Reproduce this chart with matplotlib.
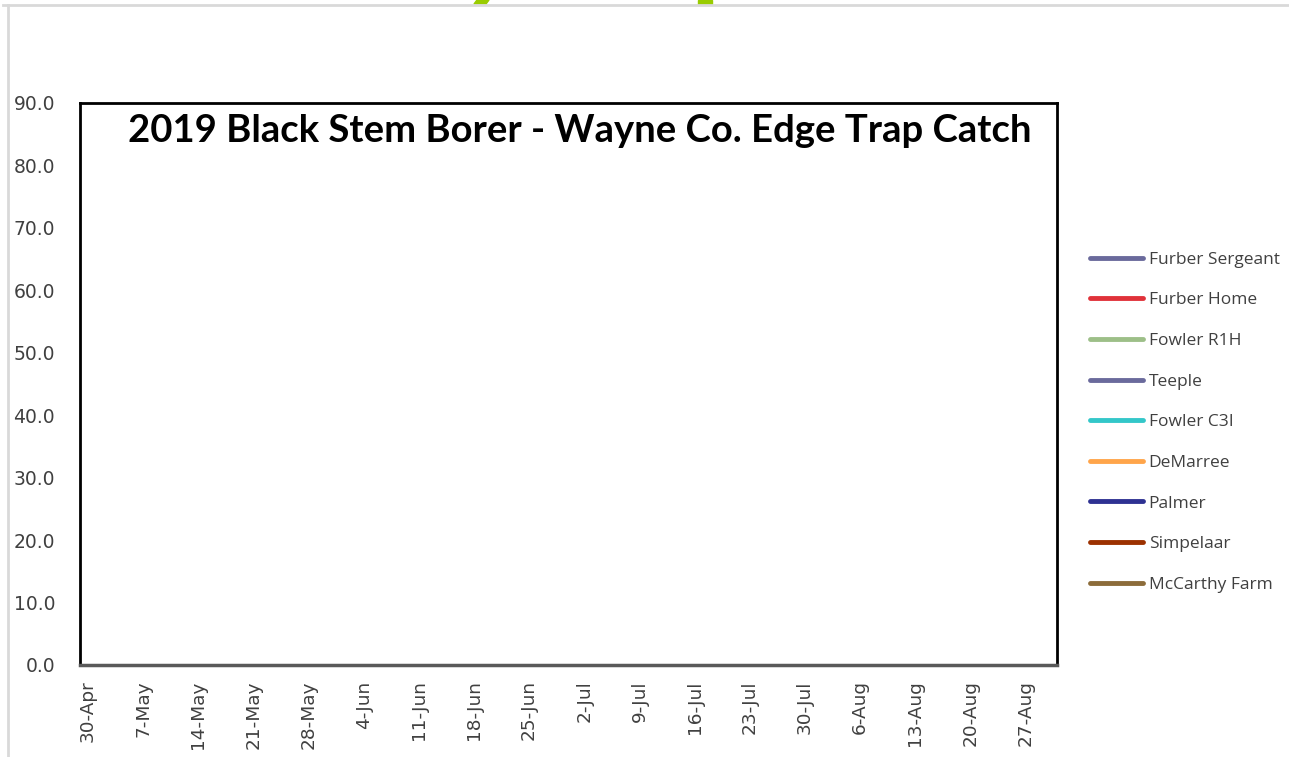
import datetime as dt
import matplotlib
matplotlib.use('Agg')
from matplotlib import pyplot as plt
import matplotlib.dates as mdates
from matplotlib.lines import Line2D
from matplotlib.patches import Polygon

# weekly trap check dates (no catches recorded, series are empty)
week_dates = [dt.date(2019, 4, 30) + dt.timedelta(days=7 * i) for i in range(18)]
week_labels = ['30-Apr', '7-May', '14-May', '21-May', '28-May', '4-Jun', '11-Jun', '18-Jun',
               '25-Jun', '2-Jul', '9-Jul', '16-Jul', '23-Jul', '30-Jul', '6-Aug', '13-Aug',
               '20-Aug', '27-Aug']
sites = ['Furber Sergeant', 'Furber Home', 'Fowler R1H', 'Teeple', 'Fowler C3I',
         'DeMarree', 'Palmer', 'Simpelaar', 'McCarthy Farm']
site_colors = ['#6a6a9c', '#e0323a', '#9dbf88', '#6a6a9c', '#33c7c9',
               '#ffa54a', '#2e3192', '#9c3100', '#8c6c3a']
catches = {s: [] for s in sites}
y_ticks = [0, 10, 20, 30, 40, 50, 60, 70, 80, 90]

fig = plt.figure(figsize=(12.89, 7.57), dpi=100)
ax = fig.add_axes([80 / 1289, 92 / 757, 977 / 1289, 562 / 757])

for s, c in zip(sites, site_colors):
    ax.plot(week_dates[:len(catches[s])], catches[s], color=c, lw=3.5,
            solid_capstyle='round', label=s)

ax.set_xlim(dt.date(2019, 4, 29), dt.date(2019, 8, 31))
ax.set_ylim(0, 90)
ax.set_yticks(y_ticks)
ax.set_yticklabels(['%.1f' % v for v in y_ticks], fontsize=13.5, color='#404040')
ax.set_xticks([mdates.date2num(d) for d in week_dates])
ax.set_xticklabels(week_labels, rotation=90, fontsize=13.3, color='#404040', va='top')
ax.tick_params(axis='y', length=0, pad=18)
ax.tick_params(axis='x', length=0, pad=11)

for side in ['left', 'top', 'right']:
    ax.spines[side].set_color('black')
    ax.spines[side].set_linewidth(2)
ax.spines['bottom'].set_color('#595959')
ax.spines['bottom'].set_linewidth(2.5)

ax.text(0.512, 0.95, '2019 Black Stem Borer - Wayne Co. Edge Trap Catch',
        transform=ax.transAxes, ha='center', va='center', fontsize=27.5,
        fontweight='bold', family='Lato')

leg = fig.legend(loc='upper left', bbox_to_anchor=(1074 / 1289, 1 - 236 / 757),
                 frameon=False, handlelength=3.05, handletextpad=0.35,
                 labelspacing=1.41, prop={'family': 'Open Sans', 'size': 12.5})
for t in leg.get_texts():
    t.set_color('#404040')

# slide frame and clipped heading strokes at the top
fig.add_artist(Line2D([3 / 1289, 1], [1 - 5 / 757] * 2, color='#d9d9d9', lw=2,
                      transform=fig.transFigure))
fig.add_artist(Line2D([8 / 1289] * 2, [0, 1 - 5 / 757], color='#d9d9d9', lw=2,
                      transform=fig.transFigure))
for pts in ([(474, 4), (486, 4), (489, 0), (477, 0)], [(698, 4), (712, 4), (712, 0), (698, 0)]):
    fig.add_artist(Polygon([(x / 1289, 1 - y / 757) for x, y in pts], closed=True,
                           color='#99cc00', transform=fig.transFigure))

fig.savefig('out.png', dpi=100)
